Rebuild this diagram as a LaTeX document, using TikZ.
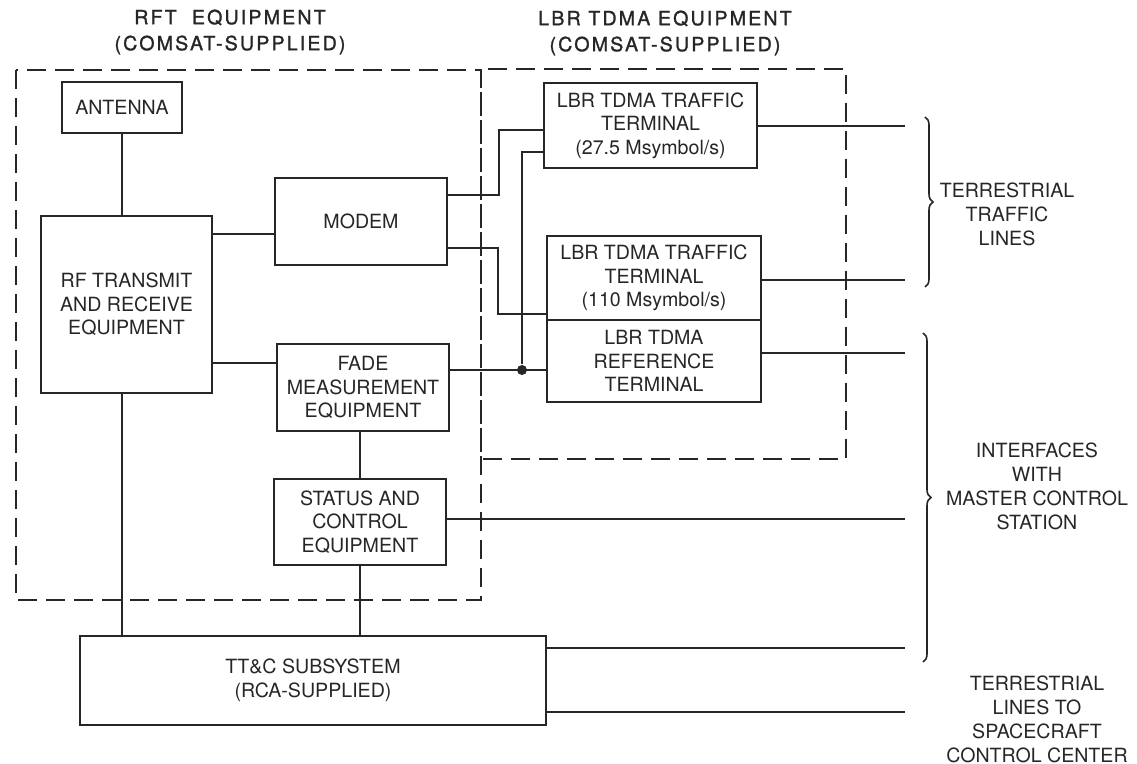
\documentclass[tikz,border=0pt]{standalone}
\usepackage{fontspec}
\setmainfont{TeX Gyre Heros}
\usetikzlibrary{decorations.pathreplacing}

\begin{document}
\begin{tikzpicture}[x=0.5pt, y=-0.5pt, line width=0.9pt, color=black!85,
  blk/.style={draw, inner sep=0pt, align=center, font=\fontsize{9.8}{11.8}\selectfont},
  lbl/.style={inner sep=0pt, align=center, font=\fontsize{9.8}{12}\selectfont},
  ttl/.style={inner sep=0pt, align=center, font=\fontsize{9.8}{13}\selectfont\addfontfeature{LetterSpace=11,FakeBold=1.3}},
  grp/.style={dash pattern=on 9.5pt off 4.5pt},
  brc/.style={decorate, decoration={brace, amplitude=4pt}, line width=0.8pt}]
  \useasboundingbox (0,0) rectangle (1137,764);

  \node[ttl] (rfttl) at (230,32) {RFT\ \ EQUIPMENT\\(COMSAT-SUPPLIED)};
  \node[ttl] (lbrttl) at (665,33) {LBR TDMA EQUIPMENT\\(COMSAT-SUPPLIED)};
  \draw[grp] (16,70) rectangle (481,600);
  \draw[grp] (481,69) rectangle (846,459);

  \node[blk, minimum width=60pt, minimum height=25.5pt] (ant) at (122,107.5) {ANTENNA};
  \node[blk, minimum width=85.5pt, minimum height=88.5pt] (rf) at (126.5,304.5) {RF TRANSMIT\\AND RECEIVE\\EQUIPMENT};
  \node[blk, minimum width=86pt, minimum height=43.5pt] (modem) at (361,221.5) {MODEM};
  \node[blk, minimum width=86pt, minimum height=43.5pt] (fade) at (363,387.5) {FADE\\MEASUREMENT\\EQUIPMENT};
  \node[blk, minimum width=86pt, minimum height=43pt] (stat) at (360,522) {STATUS AND\\CONTROL\\EQUIPMENT};
  \node[blk, minimum width=106.5pt, minimum height=42.5pt] (tt1) at (650.5,125.5) {LBR TDMA TRAFFIC\\TERMINAL\\(27.5 Msymbol/s)};
  \node[blk, minimum width=107pt, minimum height=42pt] (tt2) at (654,278) {LBR TDMA TRAFFIC\\TERMINAL\\(110 Msymbol/s)};
  \node[blk, minimum width=107pt, minimum height=41pt] (ref) at (654,361) {LBR TDMA\\REFERENCE\\TERMINAL};
  \node[blk, minimum width=233pt, minimum height=44.5pt] (ttc) at (313,680.5) {TT\&C SUBSYSTEM\\(RCA-SUPPLIED)};
  \node[circle, fill, inner sep=0pt, minimum size=5pt] (dot) at (522,370) {};

  \coordinate (o1) at (905,126);
  \coordinate (o2) at (905,280);
  \coordinate (o3) at (905,353);
  \coordinate (o4) at (905,519);
  \coordinate (o5) at (905,648);
  \coordinate (o6) at (905,712);

  \draw (ant) -- (ant |- rf.north);
  \draw (ant |- rf.south) -- (ant |- ttc.north);
  \draw (rf.east |- 0,234) -- (modem.west |- 0,234);
  \draw (rf.east |- 0,363) -- (fade.west |- 0,363);
  \draw (stat |- fade.south) -- (stat);
  \draw (stat) -- (stat |- ttc.north);
  \draw (modem.east |- 0,195) -- (499,195) |- (tt1.west |- 0,130);
  \draw (modem.east |- 0,248) -- (498,248) |- (tt2.west |- 0,314);
  \draw (fade.east |- 0,370) -- (ref.west |- 0,370);
  \draw (tt1.west |- 0,152) -| (dot);
  \draw (tt1.east |- o1) -- (o1);
  \draw (tt2.east |- o2) -- (o2);
  \draw (ref.east |- o3) -- (o3);
  \draw (stat.east |- o4) -- (o4);
  \draw (ttc.east |- o5) -- (o5);
  \draw (ttc.east |- o6) -- (o6);

  \draw[brc] (925,117) -- (925,287);
  \draw[brc] (923,333) -- (923,662);
  \node[lbl] (trf) at (1007,214) {TERRESTRIAL\\TRAFFIC\\LINES};
  \node[lbl] (mcs) at (1037,486) {INTERFACES\\WITH\\MASTER CONTROL\\STATION};
  \node[lbl] (scc) at (1037,719.5) {TERRESTRIAL\\LINES TO\\SPACECRAFT\\CONTROL CENTER};
\end{tikzpicture}
\end{document}
